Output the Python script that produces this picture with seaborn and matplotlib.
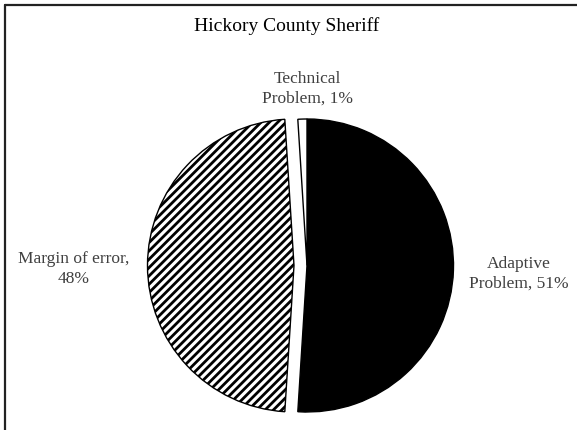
import matplotlib
matplotlib.use("Agg")
import matplotlib.pyplot as plt
import seaborn as sns
from matplotlib.lines import Line2D

sns.set_theme(style="white")
plt.rcParams['font.family'] = ['Liberation Serif', 'DejaVu Serif']
plt.rcParams['hatch.linewidth'] = 2.0

title = "Hickory County Sheriff"
categories = ["Adaptive Problem", "Margin of error", "Technical Problem"]
values = [51, 48, 1]
label_texts = ["Adaptive\nProblem, 51%", "Margin of error,\n48%", "Technical\nProblem, 1%"]
label_pos = [(519, 157), (74, 162), (307, 342)]

W, H = 577, 431
fig = plt.figure(figsize=(W / 100, H / 100), dpi=100)
ax = fig.add_axes([0, 0, 1, 1])

wedges, _ = ax.pie(values, startangle=90, counterclock=False,
                   center=(307, H - 266.5), radius=146.5,
                   explode=[0, 13, 0], frame=True,
                   colors=["black", "white", "white"],
                   wedgeprops=dict(edgecolor="black", linewidth=1.0))
wedges[1].set_hatch("////")
ax.set_xlim(0, W)
ax.set_ylim(0, H)
ax.set_aspect('equal')
ax.axis('off')

for txt, (x, y) in zip(label_texts, label_pos):
    ax.text(x, y, txt, ha='center', va='center', fontsize=12.5,
            color='#404040', linespacing=1.35)

ax.text(287, H - 26, title, ha='center', va='center', fontsize=14, color='black')

fig.add_artist(Line2D([5 / W, 1], [1 - 5.5 / H, 1 - 5.5 / H], color='#222222', lw=1.6,
                      transform=fig.transFigure))
fig.add_artist(Line2D([5 / W, 5 / W], [0, 1 - 5.5 / H], color='#222222', lw=1.6,
                      transform=fig.transFigure))

fig.savefig("out.png", dpi=100, facecolor="white")
